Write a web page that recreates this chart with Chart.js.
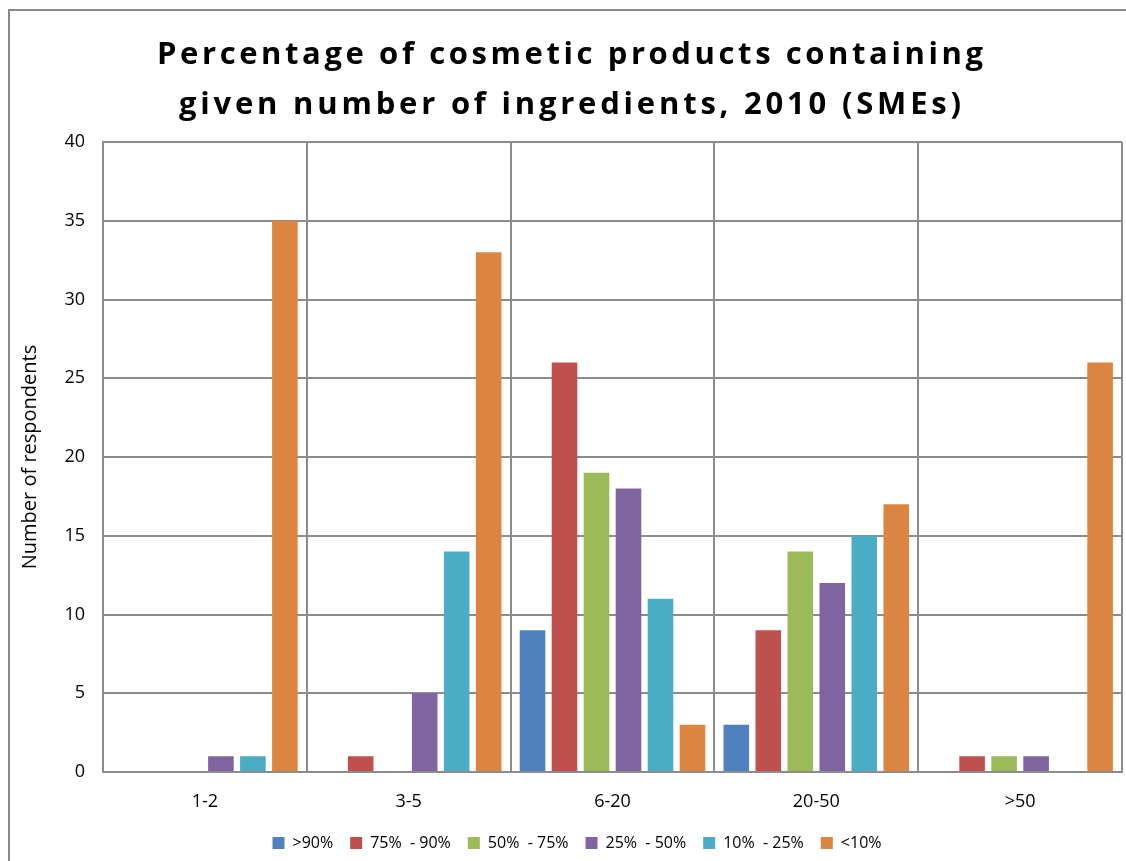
<!DOCTYPE html>
<html>
<head>
<meta charset="utf-8">
<script src="https://cdn.jsdelivr.net/npm/chart.js@4.4.1/dist/chart.umd.min.js"></script>
<style>
  html, body { margin: 0; padding: 0; background: #fff; overflow: hidden; }
  #frame { position: absolute; left: 8px; top: 9px; width: 1200px; height: 900px;
           border-left: 2px solid #8a8a8a; border-top: 2px solid #8a8a8a; box-sizing: border-box; }
  #wrap { position: absolute; left: 0; top: 0; width: 1126px; height: 861px; }
</style>
</head>
<body>
<div id="frame"></div>
<div id="wrap"><canvas id="chart" width="1126" height="861"></canvas></div>
<script>
// Number of ingredients per product (categories on the x axis)
const categories = ['1-2', '3-5', '6-20', '20-50', '>50'];

// Share of products (legend series)
const seriesNames = ['>90%', '75%  - 90%', '50%  - 75%', '25%  - 50%', '10%  - 25%', '<10%'];
const seriesColors = ['#4F81BD', '#C0504D', '#9BBB59', '#8064A2', '#4BACC6', '#DC8540'];

// Number of respondents per category, one array per series
const over90     = [0, 0, 9, 3, 0];
const from75to90 = [0, 1, 26, 9, 1];
const from50to75 = [0, 0, 19, 14, 1];
const from25to50 = [1, 5, 18, 12, 1];
const from10to25 = [1, 14, 11, 15, 0];
const under10    = [35, 33, 3, 17, 26];

// Value axis
const yMin = 0;
const yMax = 40;
const yStep = 5;

const titleLines = ['Percentage of cosmetic products containing',
                    'given number of ingredients, 2010 (SMEs)'];
const yAxisTitle = 'Number of respondents';

const seriesValues = [over90, from75to90, from50to75, from25to50, from10to25, under10];

const GRID = '#8c8c8c';
const FONT = '"Open Sans", "DejaVu Sans", sans-serif';

// Wide-tracked two-line heading drawn above the plot
const spacedTitle = {
  id: 'spacedTitle',
  afterLayout(chart) {
    // nudge the legend row a little to the right
    if (chart.legend) { chart.legend.left += 16; chart.legend.right += 16; }
  },
  afterDraw(chart) {
    const ctx = chart.ctx;
    const spans = [826, 782];
    const baselines = [64, 114];
    const centerX = 570;
    ctx.save();
    ctx.font = 'bold 31px ' + FONT;
    ctx.fillStyle = '#000';
    ctx.textAlign = 'center';
    ctx.textBaseline = 'alphabetic';
    titleLines.forEach((line, i) => {
      ctx.letterSpacing = '0px';
      const w = ctx.measureText(line).width;
      const ls = (spans[i] - w) / (line.length - 1);
      ctx.letterSpacing = ls + 'px';
      ctx.fillText(line, centerX + ls / 2, baselines[i]);
    });
    ctx.restore();
  }
};

new Chart(document.getElementById('chart'), {
  type: 'bar',
  data: {
    labels: categories,
    datasets: seriesNames.map((name, i) => ({
      label: name,
      data: seriesValues[i],
      backgroundColor: seriesColors[i],
      borderWidth: 0,
      categoryPercentage: 0.942,
      barPercentage: 0.8
    }))
  },
  options: {
    responsive: false,
    animation: false,
    devicePixelRatio: 1,
    layout: { padding: { left: 0, right: 4, top: 142, bottom: 0 } },
    plugins: {
      title: { display: false },
      tooltip: { enabled: false },
      legend: {
        position: 'bottom',
        labels: {
          boxWidth: 12,
          boxHeight: 12,
          padding: 17,
          color: '#000',
          font: { family: FONT, size: 16 }
        }
      }
    },
    scales: {
      x: {
        grid: { color: GRID, lineWidth: 2, drawTicks: false, offset: true },
        border: { display: true, color: GRID, width: 2 },
        ticks: { color: '#000', padding: 19, font: { family: FONT, size: 18 } },
        afterFit(scale) { scale.height = 46; }
      },
      y: {
        min: yMin,
        max: yMax,
        grid: { color: GRID, lineWidth: 2, drawTicks: false },
        border: { display: true, color: GRID, width: 2 },
        ticks: { stepSize: yStep, color: '#000', padding: 18, font: { family: FONT, size: 18 } },
        title: {
          display: true,
          text: yAxisTitle,
          color: '#000',
          padding: { top: 18, bottom: 0 },
          font: { family: FONT, size: 20 }
        },
        afterFit(scale) { scale.width = 103; }
      }
    }
  },
  plugins: [spacedTitle]
});
</script>
</body>
</html>
